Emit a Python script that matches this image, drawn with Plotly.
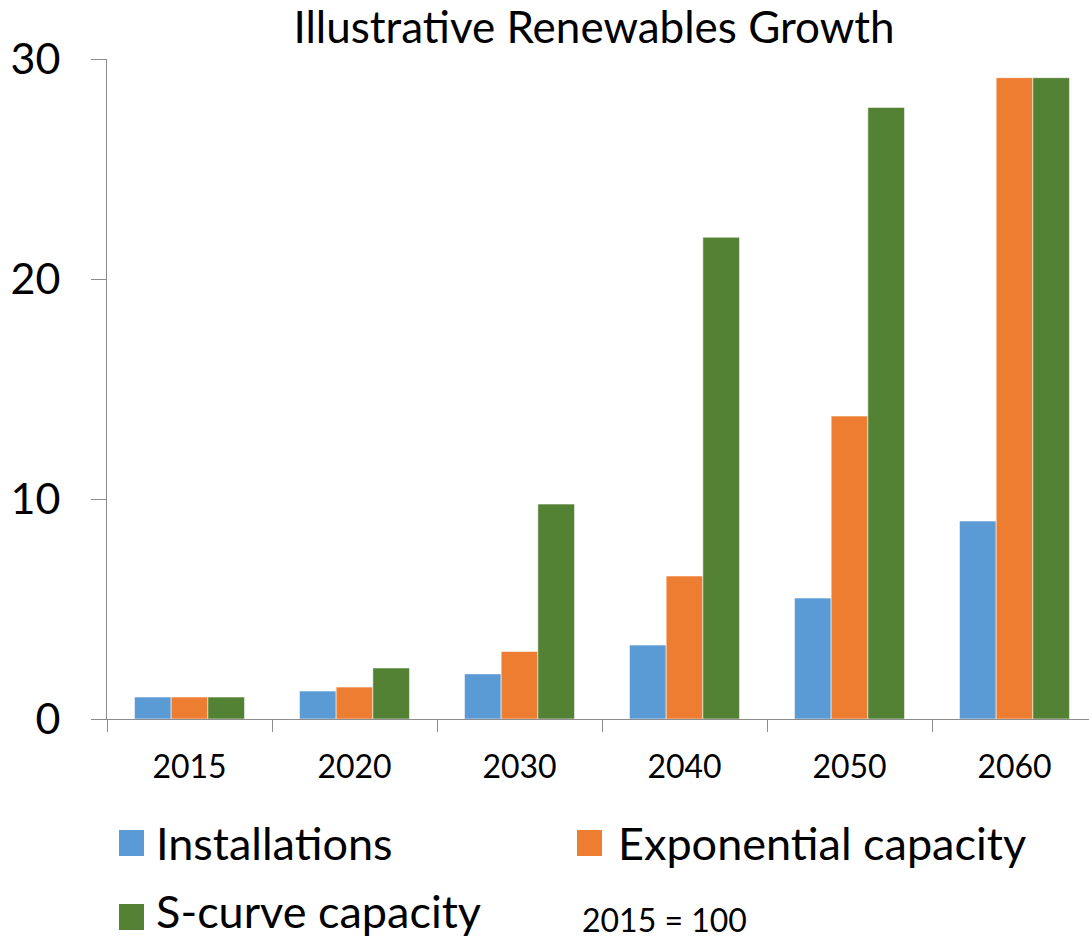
import plotly.graph_objects as go

# Index values (2015 = 100, shown in hundreds)
years = ["2015", "2020", "2030", "2040", "2050", "2060"]
installations = [1.0, 1.27, 2.05, 3.36, 5.5, 9.0]
exponential_capacity = [1.0, 1.45, 3.07, 6.5, 13.77, 29.15]
s_curve_capacity = [1.0, 2.32, 9.77, 21.9, 27.8, 29.15]

series_names = ["Installations", "Exponential capacity", "S-curve capacity"]
series_colors = ["#5B9BD5", "#ED7D31", "#548235"]
y_ticks = [0, 10, 20, 30]

W, H = 1089, 940
PL, PT, PB = 107, 59, 719  # plot-area pixel edges
FONT = "Lato"
AXIS_GREY = "#8C8C8C"


def px(x):
    return (x - PL) / (W - PL)


def py(y):
    return (PB - y) / (PB - PT)


fig = go.Figure()
for name, vals, col in zip(series_names,
                           [installations, exponential_capacity, s_curve_capacity],
                           series_colors):
    fig.add_trace(go.Bar(
        x=years, y=vals, name=name,
        marker=dict(color=col, line=dict(color="rgba(255,255,255,0.55)", width=1)),
        showlegend=False,
    ))

# category width in pixels -> the axis is cut at the right page edge
cat_px = 165.0
x_hi = -0.5 + (W - PL) / cat_px

fig.update_layout(
    width=W, height=H,
    margin=dict(l=PL, r=0, t=PT, b=H - PB, pad=0),
    paper_bgcolor="white", plot_bgcolor="white",
    barmode="group", bargap=0.333, bargroupgap=0,
    font=dict(family=FONT, color="black"),
    title=dict(
        text="Illustrative Renewables Growth",
        x=594 / W, xref="container", xanchor="center",
        y=1 - 28 / H, yref="container", yanchor="middle",
        font=dict(family=FONT, size=44, color="black"),
    ),
    xaxis=dict(
        type="category", range=[-0.5, x_hi],
        showline=True, linecolor=AXIS_GREY, linewidth=1,
        ticks="outside", tickson="boundaries", ticklen=12, tickcolor=AXIS_GREY,
        tickfont=dict(family=FONT, size=32, color="black"),
        showgrid=False, zeroline=False, ticklabelstandoff=20,
    ),
    yaxis=dict(
        range=[0, 30], tickvals=y_ticks,
        showline=True, linecolor=AXIS_GREY, linewidth=1,
        ticks="outside", ticklen=15, tickcolor=AXIS_GREY,
        tickfont=dict(family=FONT, size=43, color="black"),
        showgrid=False, zeroline=False, ticklabelstandoff=22,
    ),
)

# Legend: colour squares with labels in two columns
legend_rows = [843, 843, 917]
legend_sx = [119, 577, 119]
text_x = [155, 617, 155]
for sx, sy, tx, name, col in zip(legend_sx, legend_rows, text_x, series_names, series_colors):
    fig.add_shape(type="rect", xref="paper", yref="paper",
                  x0=px(sx), x1=px(sx + 25), y0=py(sy - 13), y1=py(sy + 13),
                  fillcolor=col, line=dict(width=0))
    if sy > 900:
        # bottom row: sit the text box on the page's lower edge
        ty, anchor = py(H - 1), "bottom"
    else:
        ty, anchor = py(sy), "middle"
    fig.add_annotation(text=name, xref="paper", yref="paper",
                       x=px(tx), y=ty, xanchor="left", yanchor=anchor,
                       showarrow=False, borderpad=0,
                       font=dict(family=FONT, size=45, color="black"))

fig.add_annotation(text="2015 = 100", xref="paper", yref="paper",
                   x=px(580), y=py(919), xanchor="left", yanchor="middle",
                   showarrow=False, font=dict(family=FONT, size=32, color="black"))

fig.write_html("out.html")
